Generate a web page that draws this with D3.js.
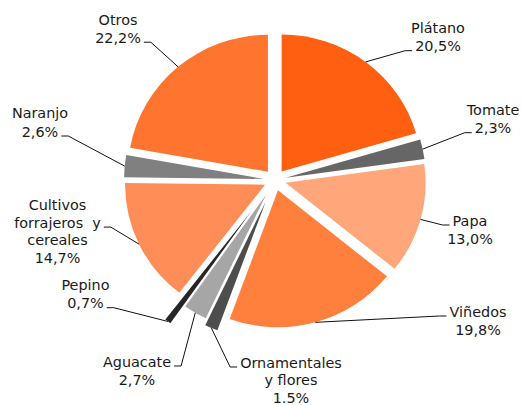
<!DOCTYPE html>
<html>
<head>
<meta charset="utf-8">
<script src="https://cdn.jsdelivr.net/npm/d3@7"></script>
<style>
  body { margin: 0; background: #fff; }
  #chart text { font-family: "DejaVu Sans", Verdana, sans-serif; font-size: 14.4px; fill: #1a1a1a; white-space: pre; }
</style>
</head>
<body>
<div id="chart"></div>
<script>
// Data (clockwise from 12 o'clock)
const categories = ["Plátano", "Tomate", "Papa", "Viñedos", "Ornamentales y flores",
    "Aguacate", "Pepino", "Cultivos forrajeros y cereales", "Naranjo", "Otros"];
const shares = [20.5, 2.3, 13.0, 19.8, 1.5, 2.7, 0.7, 14.7, 2.6, 22.2];
const valueLabels = ["20,5%", "2,3%", "13,0%", "19,8%", "1.5%", "2,7%", "0,7%", "14,7%", "2,6%", "22,2%"];
const nameLines = [["Plátano"], ["Tomate"], ["Papa"], ["Viñedos"], ["Ornamentales", "y flores"],
    ["Aguacate"], ["Pepino"], ["Cultivos", "forrajeros  y", "cereales"], ["Naranjo"], ["Otros"]];

// Styles / layout
const colors = ["#ff5f10", "#666666", "#ffa77a", "#ff7f3c", "#4d4d4d",
    "#a6a6a6", "#262626", "#ff8d57", "#808080", "#ff742f"];
const explode = [11, 11, 11, 11, 24, 17.5, 40, 11, 11, 11];
// label: centre x, first baseline y, line the leader hooks to, side of text it hooks to
const labelLayout = [
    {x: 438, y: 33,    hook: 1, side: "left"},
    {x: 493, y: 115,   hook: 1, side: "left"},
    {x: 470, y: 225.5, hook: 0, side: "left"},
    {x: 478, y: 316.5, hook: 0, side: "left"},
    {x: 291, y: 367.5, hook: 0, side: "left"},
    {x: 137, y: 366.5, hook: 0, side: "right"},
    {x: 85.5, y: 290,  hook: 1, side: "right"},
    {x: 57.5, y: 210,  hook: 1, side: "right"},
    {x: 40,  y: 118.3, hook: 1, side: "right"},
    {x: 118, y: 24.5,  hook: 1, side: "right"}
];

const width = 522, height = 405,
    cx = 275, cy = 180,
    radius = 140, squash = 0.978,
    lineH = 18.2;

const data = categories.map(function(c, i) {
    return {name: c, value: shares[i], label: valueLabels[i], lines: nameLines[i].concat([valueLabels[i]]), i: i};
});

const pie = d3.pie().sort(null).value(function(d) { return d.value; });
const arc = d3.arc().innerRadius(0).outerRadius(radius);
const arcs = pie(data);

// offset of a slice along its mid angle
function shift(d) {
    const a = (d.startAngle + d.endAngle) / 2, e = explode[d.data.i];
    return [e * Math.sin(a), -e * Math.cos(a)];
}
// point on the outer edge at mid angle, in page coords
function edgePoint(d) {
    const a = (d.startAngle + d.endAngle) / 2, s = shift(d);
    return [cx + s[0] + radius * Math.sin(a), cy + (s[1] - radius * Math.cos(a)) * squash];
}

const svg = d3.select("#chart").append("svg")
    .attr("width", width)
    .attr("height", height);

const g = svg.append("g")
    .attr("transform", "translate(" + cx + "," + cy + ") scale(1," + squash + ")");

g.selectAll("path.slice")
    .data(arcs)
    .enter().append("path")
        .attr("class", "slice")
        .attr("transform", function(d) { return "translate(" + shift(d) + ")"; })
        .attr("fill", function(d) { return colors[d.data.i]; })
        .attr("d", arc);

// Labels
const labels = svg.selectAll("g.label")
    .data(arcs)
    .enter().append("g")
        .attr("class", "label");

labels.each(function(d) {
    const lay = labelLayout[d.data.i];
    const t = d3.select(this).append("text")
        .attr("text-anchor", "middle");
    d.data.lines.forEach(function(s, k) {
        t.append("tspan")
            .attr("x", lay.x)
            .attr("y", lay.y + k * (d.data.lines.length > 2 ? lineH - 0.6 : lineH))
            .text(s);
    });
    // leader line from slice to the hooked text line
    const span = t.selectAll("tspan").nodes()[lay.hook];
    const w = span.getComputedTextLength();
    const ly = +d3.select(span).attr("y") - 0.5;
    const endX = lay.side === "left" ? lay.x - w / 2 - 3 : lay.x + w / 2 + 3;
    const elbowX = lay.side === "left" ? endX - 7 : endX + 7;
    const p = edgePoint(d);
    d3.select(this).append("path")
        .attr("fill", "none")
        .attr("stroke", "#111")
        .attr("stroke-width", 1)
        .attr("d", d3.line()([[endX, ly], [elbowX, ly], p]));
});
</script>
</body>
</html>
